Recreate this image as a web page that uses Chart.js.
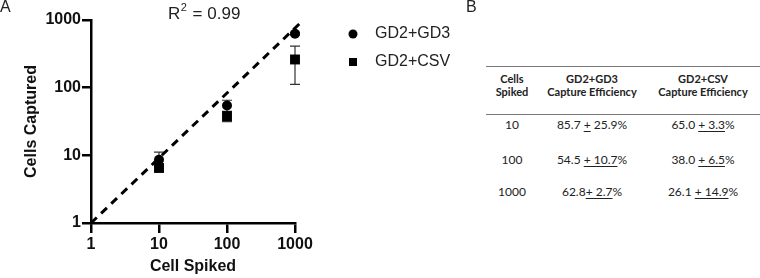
<!DOCTYPE html>
<html>
<head>
<meta charset="utf-8">
<script src="https://cdn.jsdelivr.net/npm/chart.js@4.4.0/dist/chart.umd.min.js"></script>
<style>
  body { margin: 0; background: #fff; }
  #wrap { position: relative; width: 760px; height: 278px; overflow: hidden; }
  #plot { position: absolute; left: 0; top: 0; }
  .lab { position: absolute; font: 16px 'Liberation Sans', Arial, sans-serif; color: #222; }
  .rule { position: absolute; left: 486px; width: 274px; height: 1px; background: #777; }
  .cell { position: absolute; transform: translateX(-50%); white-space: nowrap; text-align: center;
          font-family: Lato, 'Open Sans', sans-serif; color: #222; }
  .hd { font-weight: bold; font-size: 11px; line-height: 13.3px; }
  .bd { font-size: 12px; line-height: 14px; }
  u { text-decoration-thickness: 1px; text-underline-offset: 2px; }
</style>
</head>
<body>
<div id="wrap">
  <canvas id="plot" width="470" height="278"></canvas>
  <div class="lab" style="left:0px;top:-2px;">A</div>
  <div class="lab" style="left:466px;top:-2px;">B</div>
  <div class="rule" style="top:66px;"></div>
  <div class="rule" style="top:114px;"></div>
  <div id="table"></div>
</div>
<script>
document.addEventListener("DOMContentLoaded", function() {

// panel A data
var cellsSpiked = [10, 100, 1000];
var gd3Captured = [8.57, 54.5, 628];
var gd3Err = [2.59, 10.7, 27];
var csvCaptured = [6.5, 38.0, 261];
var csvErr = [0.33, 6.5, 149];
var fitX = [1, 1260];
var fitY = [1, 950];
var axisTicks = [1, 10, 100, 1000];
var seriesNames = ['GD2+GD3', 'GD2+CSV'];

// panel B table
var tableHeaders = [['Cells', 'Spiked'], ['GD2+GD3', 'Capture Efficiency'], ['GD2+CSV', 'Capture Efficiency']];
var tableSpiked = ['10', '100', '1000'];
var gd3Eff = ['85.7 <u>+</u> 25.9%', '54.5 <u>+ 10.7</u>%', '62.8<u>+ 2.7</u>%'];
var csvEff = ['65.0 <u>+ 3.3</u>%', '38.0 <u>+ 6.5</u>%', '26.1 <u>+ 14.9</u>%'];

var FONT = "'Liberation Sans', Arial, sans-serif";

function pts(xs, ys) {
    return xs.map(function(x, i) { return {x: x, y: ys[i]}; });
}

// error bars drawn under the markers
var errorBars = {
    id: 'errorBars',
    beforeDatasetsDraw: function(chart) {
        var ctx = chart.ctx;
        var xs = chart.scales.x, ys = chart.scales.y;
        ctx.save();
        ctx.strokeStyle = '#333';
        ctx.lineWidth = 1.2;
        chart.data.datasets.forEach(function(ds) {
            if (!ds.errors) return;
            ds.data.forEach(function(p, i) {
                var x = xs.getPixelForValue(p.x);
                var yTop = ys.getPixelForValue(p.y + ds.errors[i]);
                var yBot = ys.getPixelForValue(p.y - ds.errors[i]);
                ctx.beginPath();
                ctx.moveTo(x, yTop); ctx.lineTo(x, yBot);
                ctx.moveTo(x - 5, yTop); ctx.lineTo(x + 5, yTop);
                ctx.moveTo(x - 5, yBot); ctx.lineTo(x + 5, yBot);
                ctx.stroke();
            });
        });
        ctx.restore();
    }
};

// legend on the right and R^2 label
var extras = {
    id: 'extras',
    afterDraw: function(chart) {
        var ctx = chart.ctx;
        ctx.save();
        ctx.textBaseline = 'middle';
        // legend
        var rows = [34, 62];
        seriesNames.forEach(function(name, i) {
            var y = rows[i];
            ctx.fillStyle = '#000';
            ctx.beginPath();
            if (i === 0) {
                ctx.arc(353, y, 4.5, 0, Math.PI * 2);
            } else {
                ctx.rect(349, y - 4, 8, 8);
            }
            ctx.fill();
            ctx.fillStyle = '#222';
            ctx.font = '16px ' + FONT;
            ctx.textAlign = 'left';
            ctx.fillText(name, 375, y);
        });
        // R^2 = 0.99
        var x = 168, y = 14;
        ctx.fillStyle = '#222';
        ctx.font = '17px ' + FONT;
        ctx.fillText('R', x, y);
        x += ctx.measureText('R').width;
        ctx.font = '11px ' + FONT;
        ctx.fillText('2', x + 0.5, y - 6);
        x += ctx.measureText('2').width + 1.5;
        ctx.font = '17px ' + FONT;
        ctx.fillText(' = 0.99', x, y);
        ctx.restore();
    }
};

function logAxis(title, tickLen, tickPad, titlePad) {
    return {
        type: 'logarithmic',
        min: 1,
        max: 1000,
        afterBuildTicks: function(scale) {
            scale.ticks = axisTicks.map(function(v) { return {value: v}; });
        },
        ticks: {
            color: '#111',
            padding: tickPad,
            font: {family: FONT, size: 16, weight: 'bold'},
            callback: function(v) { return String(v); }
        },
        grid: {
            drawOnChartArea: false,
            drawTicks: true,
            tickLength: tickLen,
            color: '#000',
            lineWidth: 2.5
        },
        border: {display: true, color: '#000', width: 2.5},
        title: {
            display: true,
            text: title,
            color: '#111',
            padding: titlePad,
            font: {family: FONT, size: 16, weight: 'bold'}
        }
    };
}

var xAxis = logAxis('Cell Spiked', 10, 2, {top: 0, bottom: 2});
xAxis.afterFit = function(scale) { scale.height = 55; };
var yAxis = logAxis('Cells Captured', 9, 1, {top: 22, bottom: 0});
yAxis.afterFit = function(scale) { scale.width = 91; };

var ctx = document.getElementById('plot').getContext('2d');
var chart = new Chart(ctx, {
    type: 'scatter',
    data: {
        datasets: [{
            label: seriesNames[0],
            data: pts(cellsSpiked, gd3Captured),
            errors: gd3Err,
            pointStyle: 'circle',
            pointRadius: 5,
            backgroundColor: '#000',
            borderColor: '#000',
            borderWidth: 0,
            clip: false,
            order: 1
        }, {
            label: seriesNames[1],
            data: pts(cellsSpiked, csvCaptured),
            errors: csvErr,
            pointStyle: 'rect',
            pointRadius: 7,
            backgroundColor: '#000',
            borderColor: '#000',
            borderWidth: 0,
            clip: false,
            order: 2
        }, {
            type: 'line',
            label: 'fit',
            data: pts(fitX, fitY),
            borderColor: '#000',
            borderWidth: 3,
            borderDash: [8, 6],
            pointRadius: 0,
            fill: false,
            clip: false,
            order: 0
        }]
    },
    options: {
        responsive: false,
        animation: false,
        layout: {padding: {top: 20, right: 175, bottom: 0, left: 0}},
        plugins: {legend: {display: false}, tooltip: {enabled: false}},
        scales: {x: xAxis, y: yAxis}
    },
    plugins: [errorBars, extras]
});

// panel B table
var table = document.getElementById('table');
var colX = [512, 592, 703];
function addCell(html, x, y, cls) {
    var d = document.createElement('div');
    d.className = 'cell ' + cls;
    d.style.left = x + 'px';
    d.style.top = y + 'px';
    d.innerHTML = html;
    table.appendChild(d);
}
tableHeaders.forEach(function(h, i) {
    addCell(h.join('<br>'), colX[i], 72, 'hd');
});
var rowY = [118, 153, 185];
tableSpiked.forEach(function(s, r) {
    addCell(s, colX[0], rowY[r], 'bd');
    addCell(gd3Eff[r], colX[1], rowY[r], 'bd');
    addCell(csvEff[r], colX[2], rowY[r], 'bd');
});

});
</script>
</body>
</html>
